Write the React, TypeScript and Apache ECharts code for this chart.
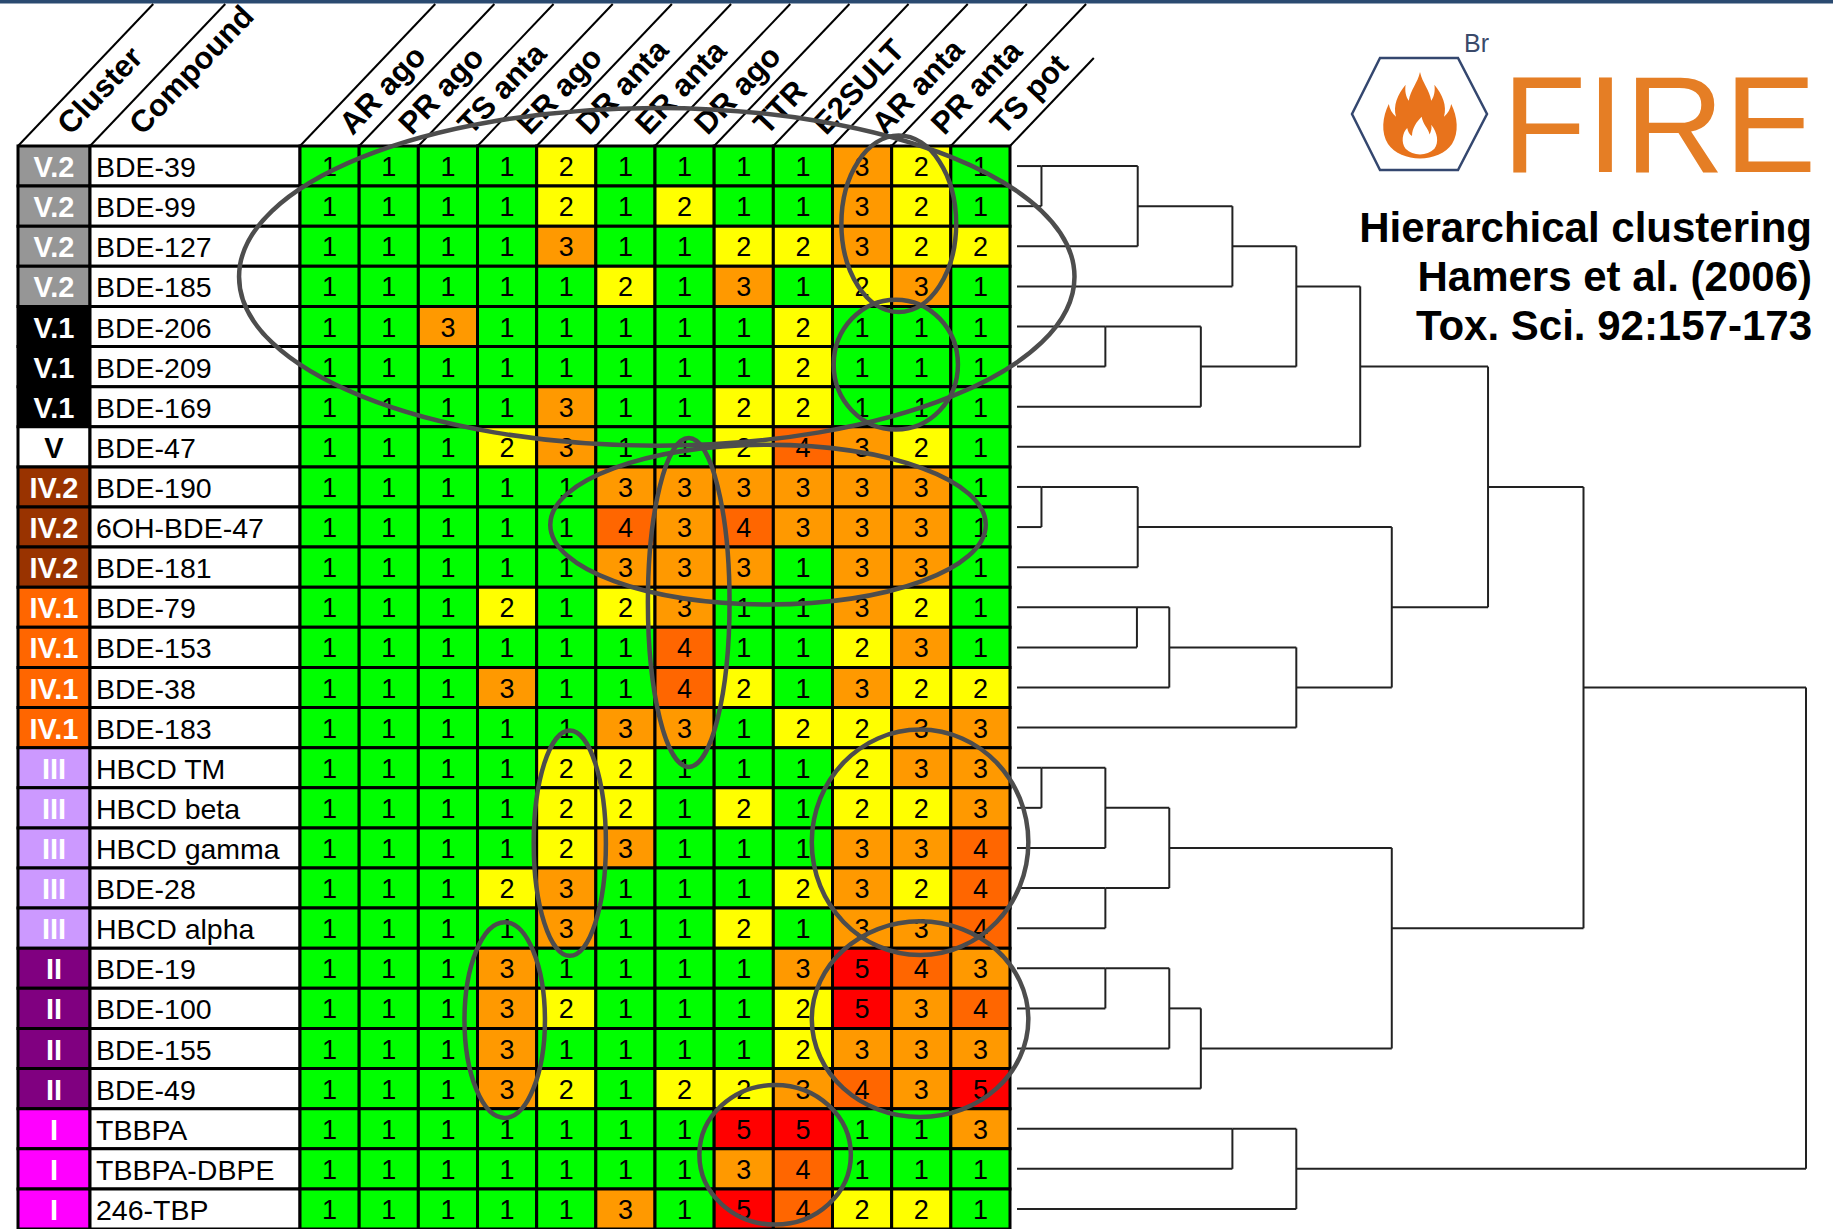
import React, { useEffect, useRef } from 'react';
import * as echarts from 'echarts';

// ---------------- data ----------------
const assays = ['AR ago', 'PR ago', 'TS anta', 'ER ago', 'DR anta', 'ER anta', 'DR ago', 'TTR', 'E2SULT', 'AR anta', 'PR anta', 'TS pot'];

const clusters = ['V.2', 'V.2', 'V.2', 'V.2', 'V.1', 'V.1', 'V.1', 'V', 'IV.2', 'IV.2', 'IV.2', 'IV.1', 'IV.1', 'IV.1', 'IV.1', 'III', 'III', 'III', 'III', 'III', 'II', 'II', 'II', 'II', 'I', 'I', 'I'];

const compounds = ['BDE-39', 'BDE-99', 'BDE-127', 'BDE-185', 'BDE-206', 'BDE-209', 'BDE-169', 'BDE-47', 'BDE-190', '6OH-BDE-47', 'BDE-181', 'BDE-79', 'BDE-153', 'BDE-38', 'BDE-183', 'HBCD TM', 'HBCD beta', 'HBCD gamma', 'BDE-28', 'HBCD alpha', 'BDE-19', 'BDE-100', 'BDE-155', 'BDE-49', 'TBBPA', 'TBBPA-DBPE', '246-TBP'];

const scores = [
  [1, 1, 1, 1, 2, 1, 1, 1, 1, 3, 2, 1],
  [1, 1, 1, 1, 2, 1, 2, 1, 1, 3, 2, 1],
  [1, 1, 1, 1, 3, 1, 1, 2, 2, 3, 2, 2],
  [1, 1, 1, 1, 1, 2, 1, 3, 1, 2, 3, 1],
  [1, 1, 3, 1, 1, 1, 1, 1, 2, 1, 1, 1],
  [1, 1, 1, 1, 1, 1, 1, 1, 2, 1, 1, 1],
  [1, 1, 1, 1, 3, 1, 1, 2, 2, 1, 1, 1],
  [1, 1, 1, 2, 3, 1, 1, 2, 4, 3, 2, 1],
  [1, 1, 1, 1, 1, 3, 3, 3, 3, 3, 3, 1],
  [1, 1, 1, 1, 1, 4, 3, 4, 3, 3, 3, 1],
  [1, 1, 1, 1, 1, 3, 3, 3, 1, 3, 3, 1],
  [1, 1, 1, 2, 1, 2, 3, 1, 1, 3, 2, 1],
  [1, 1, 1, 1, 1, 1, 4, 1, 1, 2, 3, 1],
  [1, 1, 1, 3, 1, 1, 4, 2, 1, 3, 2, 2],
  [1, 1, 1, 1, 1, 3, 3, 1, 2, 2, 3, 3],
  [1, 1, 1, 1, 2, 2, 1, 1, 1, 2, 3, 3],
  [1, 1, 1, 1, 2, 2, 1, 2, 1, 2, 2, 3],
  [1, 1, 1, 1, 2, 3, 1, 1, 1, 3, 3, 4],
  [1, 1, 1, 2, 3, 1, 1, 1, 2, 3, 2, 4],
  [1, 1, 1, 1, 3, 1, 1, 2, 1, 3, 3, 4],
  [1, 1, 1, 3, 1, 1, 1, 1, 3, 5, 4, 3],
  [1, 1, 1, 3, 2, 1, 1, 1, 2, 5, 3, 4],
  [1, 1, 1, 3, 1, 1, 1, 1, 2, 3, 3, 3],
  [1, 1, 1, 3, 2, 1, 2, 2, 3, 4, 3, 5],
  [1, 1, 1, 1, 1, 1, 1, 5, 5, 1, 1, 3],
  [1, 1, 1, 1, 1, 1, 1, 3, 4, 1, 1, 1],
  [1, 1, 1, 1, 1, 3, 1, 5, 4, 2, 2, 1],
];

const scoreColors = ['#ffffff', '#00FF00', '#FFFF00', '#FF9900', '#FF6600', '#FF0000'];

const clusterColors: Record<string, string> = {
  'V.2': '#969696', 'V.1': '#000000', 'V': '#FFFFFF', 'IV.2': '#993300',
  'IV.1': '#FF6600', 'III': '#CC99FF', 'II': '#800080', 'I': '#FF00FF',
};
const clusterTextColors: Record<string, string> = {
  'V.2': '#ffffff', 'V.1': '#ffffff', 'V': '#000000', 'IV.2': '#ffffff',
  'IV.1': '#ffffff', 'III': '#ffffff', 'II': '#ffffff', 'I': '#ffffff',
};

// merges: [childA, childB, distance]; leaves are 0..26, merged nodes get ids 27, 28, ...
const dendroMerges: [number, number, number][] = [
  [0, 1, 3.1], [27, 2, 15.3], [28, 3, 27.3], [4, 5, 11.2], [30, 6, 23.3],
  [29, 31, 35.4], [32, 7, 43.5], [8, 9, 3.1], [34, 10, 15.3], [11, 12, 15.2],
  [36, 13, 19.3], [37, 14, 35.4], [35, 38, 47.5], [33, 39, 59.7], [15, 16, 3.1],
  [41, 17, 11.2], [18, 19, 11.2], [42, 43, 19.3], [20, 21, 11.2], [45, 22, 19.3],
  [46, 23, 23.3], [44, 47, 47.5], [40, 48, 71.8], [24, 25, 27.3], [50, 26, 35.4],
  [49, 51, 100],
];

// highlight ellipses: [centre column, centre row, x radius (columns), y radius (rows)]
const ellipses: [number, number, number, number][] = [
  [6.03, 3.26, 7.06, 4.21],
  [10.12, 1.94, 0.97, 2.2],
  [10.07, 5.45, 1.05, 1.62],
  [7.91, 9.44, 3.68, 1.99],
  [6.57, 11.38, 0.69, 4.1],
  [4.56, 17.38, 0.61, 2.81],
  [3.46, 21.79, 0.68, 2.44],
  [10.48, 17.36, 1.83, 2.81],
  [10.48, 21.77, 1.83, 2.44],
  [8.03, 25.15, 1.28, 1.74],
];

const titleLines = ['Hierarchical clustering', 'Hamers et al. (2006)', 'Tox. Sci. 92:157-173'];

// ---------------- layout ----------------
const FONT = "'Liberation Sans', Arial, Helvetica, sans-serif";
const ROW_TOP = 146;
const ROW_H = 40.15;
const NROWS = compounds.length;
const GRID_H = ROW_H * NROWS;
const HEADER_TOP = 4;
const HEADER_LAST_TOP = 58;
const HEADER_SLOPE = 1.05;
const HEADER_ANGLE = Math.atan(HEADER_SLOPE);

const FLAME_OUTER = 'M50 0 C53 14 62 22 64 36 C68 30 69 24 68 16 C78 28 84 42 80 56 C85 52 88 46 89 40 C97 56 99 76 90 90 C82 102 66 108 50 108 C34 108 18 102 10 90 C1 76 3 56 11 40 C12 46 15 52 20 56 C16 42 22 28 32 16 C31 24 32 30 36 36 C38 22 47 14 50 0 Z';
const FLAME_INNER = 'M52 56 C54 66 60 70 62 78 C64 74 65 70 64 66 C72 76 74 88 68 96 C63 101 57 103 50 103 C43 103 37 101 32 96 C26 88 28 76 34 70 C35 75 37 78 40 80 C40 70 46 62 52 56 Z';

echarts.graphic.registerShape('flameOuter', echarts.graphic.extendPath(FLAME_OUTER, {}));
echarts.graphic.registerShape('flameInner', echarts.graphic.extendPath(FLAME_INNER, {}));

function buildDendroSegments() {
  const height: number[] = [];
  const out: number[] = [];
  for (let i = 0; i < NROWS; i++) { height[i] = 0; out[i] = i; }
  const segs: number[][] = [];
  dendroMerges.forEach(([a, b, d], k) => {
    const id = NROWS + k;
    const ya = out[a] + 0.5;
    const yb = out[b] + 0.5;
    segs.push([height[a], ya, d, ya]);
    segs.push([height[b], yb, d, yb]);
    segs.push([d, ya, d, yb]);
    height[id] = d;
    out[id] = Math.floor((out[a] + out[b]) / 2);
  });
  return segs;
}

function headerSeries(gridIdx: number, labels: string[], closeRight: boolean) {
  return {
    type: 'custom',
    xAxisIndex: gridIdx,
    yAxisIndex: gridIdx,
    silent: true,
    z: 3,
    data: labels.map((_, i) => [i, 0]),
    renderItem: (params: any, api: any) => {
      const i = api.value(0);
      const p = api.coord([i, 0]);
      const q = api.coord([i + 1, 0]);
      const children: any[] = [];
      const mk = (x: number, y: number, top: number) => ({
        type: 'line',
        shape: { x1: x, y1: y, x2: x + (y - top) / HEADER_SLOPE, y2: top },
        style: { stroke: '#000', lineWidth: 2 },
      });
      children.push(mk(p[0], p[1], HEADER_TOP));
      if (closeRight && params.dataIndex === labels.length - 1) children.push(mk(q[0], q[1], HEADER_LAST_TOP));
      children.push({
        type: 'text',
        x: p[0] + 45,
        y: p[1] - 17,
        rotation: HEADER_ANGLE,
        style: {
          text: labels[params.dataIndex], x: 0, y: 0, align: 'left', verticalAlign: 'middle',
          fill: '#000', fontFamily: FONT, fontWeight: 'bold', fontSize: 31,
        },
      });
      return { type: 'group', children };
    },
  };
}

function buildOption() {
  const heatData: number[][] = [];
  scores.forEach((row, r) => row.forEach((v, c) => heatData.push([c, r, v])));
  const segs = buildDendroSegments();

  const grids = [
    { left: 18, top: ROW_TOP, width: 72, height: GRID_H },
    { left: 90, top: ROW_TOP, width: 210, height: GRID_H },
    { left: 300, top: ROW_TOP, width: 710, height: GRID_H },
    { left: 1017, top: ROW_TOP, width: 789, height: GRID_H },
  ];
  const xMax = [1, 1, assays.length, 100];
  const xAxis = grids.map((_, i) => ({ type: 'value', gridIndex: i, min: 0, max: xMax[i], show: false }));
  const yAxis = grids.map((_, i) => ({ type: 'value', gridIndex: i, min: 0, max: NROWS, inverse: true, show: false }));

  const cellRect = (api: any, c: number, r: number, w: number) => {
    const p0 = api.coord([c, r]);
    const p1 = api.coord([c + w, r + 1]);
    return { x: p0[0], y: p0[1], w: p1[0] - p0[0], h: p1[1] - p0[1] };
  };

  const series: any[] = [
    {
      type: 'custom', xAxisIndex: 0, yAxisIndex: 0, silent: true, z: 2,
      data: clusters.map((_, i) => [0, i]),
      renderItem: (params: any, api: any) => {
        const b = cellRect(api, 0, api.value(1), 1);
        const cl = clusters[params.dataIndex];
        return {
          type: 'group', children: [
            { type: 'rect', shape: { x: b.x, y: b.y, width: b.w, height: b.h }, style: { fill: clusterColors[cl], stroke: '#000', lineWidth: 3 } },
            { type: 'text', style: { text: cl, x: b.x + b.w / 2, y: b.y + b.h / 2 + 1, align: 'center', verticalAlign: 'middle', fill: clusterTextColors[cl], fontFamily: FONT, fontWeight: 'bold', fontSize: 29 } },
          ],
        };
      },
    },
    {
      type: 'custom', xAxisIndex: 1, yAxisIndex: 1, silent: true, z: 2,
      data: compounds.map((_, i) => [0, i]),
      renderItem: (params: any, api: any) => {
        const b = cellRect(api, 0, api.value(1), 1);
        return {
          type: 'group', children: [
            { type: 'rect', shape: { x: b.x, y: b.y, width: b.w, height: b.h }, style: { fill: '#fff', stroke: '#000', lineWidth: 3 } },
            { type: 'text', style: { text: compounds[params.dataIndex], x: b.x + 6, y: b.y + b.h / 2 + 1, align: 'left', verticalAlign: 'middle', fill: '#000', fontFamily: FONT, fontSize: 28.5 } },
          ],
        };
      },
    },
    {
      type: 'custom', xAxisIndex: 2, yAxisIndex: 2, silent: true, z: 2,
      data: heatData,
      renderItem: (params: any, api: any) => {
        const c = api.value(0), r = api.value(1), v = api.value(2);
        const b = cellRect(api, c, r, 1);
        return {
          type: 'group', children: [
            { type: 'rect', shape: { x: b.x, y: b.y, width: b.w, height: b.h }, style: { fill: scoreColors[v], stroke: '#000', lineWidth: 3 } },
            { type: 'text', style: { text: String(v), x: b.x + b.w / 2, y: b.y + b.h / 2 + 1, align: 'center', verticalAlign: 'middle', fill: '#000', fontFamily: FONT, fontSize: 27 } },
          ],
        };
      },
    },
    headerSeries(0, ['Cluster'], false),
    headerSeries(1, ['Compound'], false),
    headerSeries(2, assays, true),
    {
      type: 'custom', xAxisIndex: 3, yAxisIndex: 3, silent: true, z: 2,
      data: segs,
      encode: { x: [0, 2], y: [1, 3] },
      renderItem: (params: any, api: any) => {
        const a = api.coord([api.value(0), api.value(1)]);
        const b = api.coord([api.value(2), api.value(3)]);
        return { type: 'line', shape: { x1: a[0], y1: a[1], x2: b[0], y2: b[1] }, style: { stroke: '#222', lineWidth: 2 } };
      },
    },
    {
      type: 'custom', xAxisIndex: 2, yAxisIndex: 2, silent: true, z: 10,
      data: ellipses,
      encode: { x: 0, y: 1 },
      renderItem: (params: any, api: any) => {
        const cx = api.value(0), cy = api.value(1), rx = api.value(2), ry = api.value(3);
        const c = api.coord([cx, cy]);
        const e = api.coord([cx + rx, cy + ry]);
        return {
          type: 'ellipse',
          shape: { cx: c[0], cy: c[1], rx: Math.abs(e[0] - c[0]), ry: Math.abs(e[1] - c[1]) },
          style: { fill: 'none', stroke: '#4d4d4d', lineWidth: 4.5 },
        };
      },
    },
  ];

  const graphic: any[] = [
    { type: 'rect', shape: { x: 0, y: 0, width: 1833, height: 3.5 }, style: { fill: '#2a4a70' } },
    {
      type: 'polygon',
      shape: { points: [[1380, 58], [1458, 58], [1487, 114], [1458, 170], [1380, 170], [1352, 114]] },
      style: { fill: '#fff', stroke: '#34476f', lineWidth: 2.5 },
    },
    { type: 'flameOuter', x: 1380, y: 72, scaleX: 0.8, scaleY: 0.8, style: { fill: '#E8731C' } },
    { type: 'flameInner', x: 1380, y: 72, scaleX: 0.8, scaleY: 0.8, style: { fill: '#ffffff' } },
    { type: 'text', x: 1464, y: 43, style: { text: 'Br', fill: '#3a4a6a', fontFamily: FONT, fontSize: 25, align: 'left', verticalAlign: 'middle' } },
    { type: 'text', x: 1502, y: 124, style: { text: 'FIRE', fill: '#E57E25', fontFamily: FONT, fontSize: 138, align: 'left', verticalAlign: 'middle' } },
  ];
  titleLines.forEach((t, i) => {
    graphic.push({
      type: 'text', x: 1812, y: 227 + i * 49,
      style: { text: t, fill: '#000', fontFamily: FONT, fontWeight: 'bold', fontSize: 42, align: 'right', verticalAlign: 'middle' },
    });
  });

  return {
    animation: false,
    backgroundColor: '#ffffff',
    grid: grids,
    xAxis,
    yAxis,
    series,
    graphic,
  };
}

export default function App() {
  const ref = useRef<HTMLDivElement>(null);
  useEffect(() => {
    if (!ref.current) return;
    const chart = echarts.init(ref.current, undefined, { renderer: 'svg' });
    chart.setOption(buildOption() as any);
    return () => chart.dispose();
  }, []);
  return (
    <div
      ref={ref}
      style={{ position: 'fixed', left: 0, top: 0, width: 1833, height: 1229, background: '#fff' }}
    />
  );
}
